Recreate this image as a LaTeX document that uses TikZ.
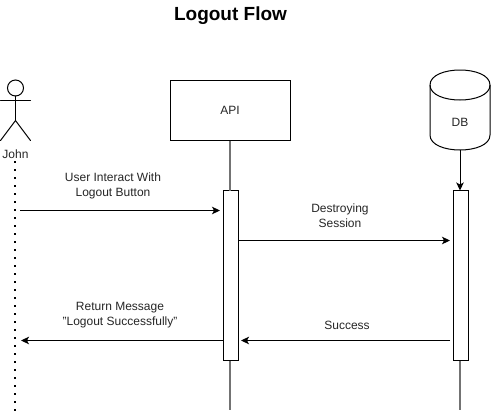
\documentclass[tikz,border=0pt]{standalone}
\usepackage{fontspec}
\setmainfont{Liberation Sans}
\usetikzlibrary{arrows.meta}
\tikzset{
  every node/.style={font=\fontsize{12}{15}\selectfont, text=black!85, inner sep=0pt, outer sep=0pt},
  sq/.style={line width=1pt, draw=black, fill=white},
  lifeline/.style={line width=1.2pt, draw=black!55},
  activation/.style={sq, minimum width=15pt, minimum height=170pt},
  msg/.style={line width=1pt, -{Stealth[length=8pt,width=7.5pt,inset=2pt]}},
  actorline/.style={line width=1pt, line cap=round},
  label/.style={align=center}
}
\begin{document}
\begin{tikzpicture}[x=1pt,y=-1pt]
\useasboundingbox (0,0) rectangle (491,413);
\fill[white] (0,0) rectangle (491,413);
% title
\node[font=\fontsize{19}{22}\selectfont\bfseries, text=black] (title) at (230.5,15.5) {Logout Flow};
% lifeline ends
\coordinate (apiEnd) at (230,410);
\coordinate (dbEnd) at (460,410);
\coordinate (johnEnd) at (15,411);
% API
\node[sq, minimum width=120pt, minimum height=60pt] (api) at (230,110.5) {API};
% DB cylinder
\draw[sq] (430,85) .. controls (430,65) and (490,65) .. (490,85) -- (490,135) .. controls (490,155) and (430,155) .. (430,135) -- cycle;
\draw[line width=1pt] (430,85) .. controls (430,105) and (490,105) .. (490,85);
\node (db) at (460,122) {DB};
\coordinate (dbBottom) at (460,150);
% activations
\node[activation] (actA) at (230.5,275.5) {};
\node[activation] (actB) at (460.5,275.5) {};
% lifelines
\draw[lifeline] (api.south) -- (api.south |- actA.north);
\draw[lifeline] (api.south |- actA.south) -- (apiEnd);
\draw[lifeline] (dbEnd |- actB.south) -- (dbEnd);
\draw[msg] (dbBottom) -- (dbBottom |- actB.north);
% actor
\node[circle, draw=black, line width=1pt, minimum size=16pt, fill=white] (head) at (15.5,88) {};
\coordinate (armL) at (0.5,100.5);
\coordinate (armR) at (30.5,100.5);
\coordinate (hip) at (15.5,120.5);
\coordinate (legL) at (0.5,140.5);
\coordinate (legR) at (30.5,140.5);
\draw[actorline] (head.south) -- (hip);
\draw[actorline] (armL) -- (armR);
\draw[actorline] (legL) -- (hip) -- (legR);
\node (john) at (15.5,154) {John};
\draw[line width=1.6pt, draw=black, dash pattern=on 1.6pt off 6.4pt] (15,161) -- (johnEnd);
% messages
\coordinate (johnA) at (15,210.5);
\coordinate (johnB) at (15,340.5);
\draw[msg, shorten >=3pt] (20,210.5) -- (actA.west |- johnA);
\draw[msg] (actA.east |- 0,240.5) -- (450,240.5);
\draw[msg] (450,340.5) -- (241,340.5);
\draw[msg] (actA.west |- johnB) -- (21,340.5);
% labels
\node[label] (l1) at (113,185.5) {User Interact With\\Logout Button};
\node[label] (l2) at (340,215.5) {Destroying\\Session};
\node[label] (l3) at (347,325) {Success};
\node[label] (l4) at (120,315.5) {Return Message\\"Logout Successfully"};
\end{tikzpicture}
\end{document}
